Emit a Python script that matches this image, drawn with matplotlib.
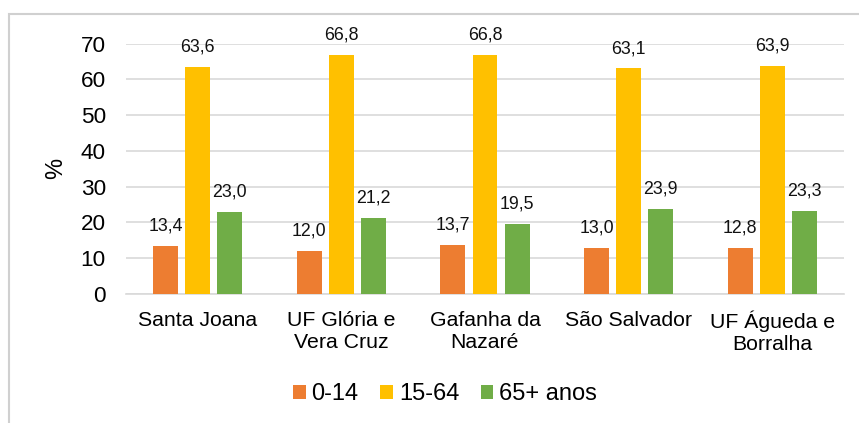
import numpy as np
import matplotlib.pyplot as plt
from matplotlib.patches import Rectangle

plt.rcParams['font.family'] = ['Liberation Sans', 'DejaVu Sans']

# Population by age group (%)
freguesias = ['Santa Joana', 'UF Glória e\nVera Cruz', 'Gafanha da\nNazaré',
              'São Salvador', 'UF Águeda e\nBorralha']
idade_0_14 = [13.4, 12.0, 13.7, 13.0, 12.8]
idade_15_64 = [63.6, 66.8, 66.8, 63.1, 63.9]
idade_65 = [23.0, 21.2, 19.5, 23.9, 23.3]
series_names = ['0-14', '15-64', '65+ anos']
colors = ['#ED7D31', '#FFC000', '#70AD47']

fig = plt.figure(figsize=(8.59, 4.23), dpi=100)
ax = fig.add_axes([126/859, 1 - 294/423, (844 - 126)/859, (294 - 43.7)/423])

# outer chart border (cut on right/bottom like the original)
fig.patches.append(Rectangle((9/859, -0.1), 1.2, 1 - 14/423 + 0.1, transform=fig.transFigure,
                             fill=False, edgecolor='#D0D0D0', linewidth=1.5))

x = np.arange(len(freguesias))
width = 0.174
offset = 0.223
for i, (vals, name) in enumerate(zip([idade_0_14, idade_15_64, idade_65], series_names)):
    pos = x + (i - 1) * offset
    ax.bar(pos, vals, width, color=colors[i], label=name, zorder=3)
    for p, v in zip(pos, vals):
        ax.annotate(f'{v:.1f}'.replace('.', ','), (p, v), xytext=(0, 11),
                    textcoords='offset points', ha='center', va='baseline',
                    fontsize=12.8, color='#111111')

ax.set_xlim(-0.5, len(freguesias) - 0.5)
ax.set_ylim(0, 70)
ax.set_yticks(range(0, 71, 10))
ax.tick_params(axis='y', labelsize=16.2, length=0, pad=14.5)
ax.tick_params(axis='x', labelsize=15.3, length=0, pad=12)
ax.set_xticks(x)
ax.set_xticklabels(freguesias, linespacing=1.2)
ax.grid(axis='y', color='#D9D9D9', linewidth=1.2, zorder=0)
for s in ['top', 'right', 'left']:
    ax.spines[s].set_visible(False)
ax.spines['bottom'].set_color('#D9D9D9')
ax.spines['bottom'].set_linewidth(1.2)
ax.set_ylabel('%', fontsize=17)
ax.yaxis.set_label_coords(-0.082, 0.5)

fig.legend(loc='center', bbox_to_anchor=(445/859, 1 - 394/423), ncol=3, frameon=False,
           fontsize=17, handlelength=0.55, handleheight=0.55, handletextpad=0.25,
           columnspacing=0.9)

plt.savefig('out.png', dpi=100)
